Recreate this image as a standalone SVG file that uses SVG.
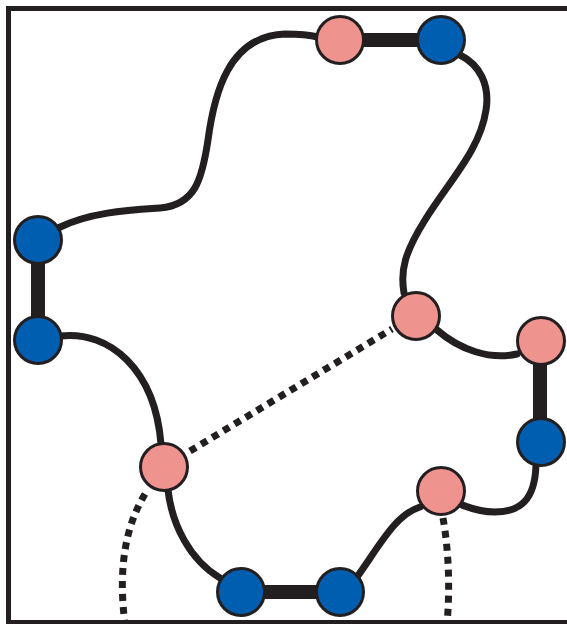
<svg xmlns="http://www.w3.org/2000/svg" width="567" height="624" viewBox="0 0 567 624">
<style>
.frame{stroke:#231F20;stroke-width:5;fill:none}
.curve{stroke:#231F20;stroke-width:7;fill:none;stroke-linecap:round}
.bar{stroke:#231F20;stroke-width:14;fill:none}
.dot{stroke:#231F20;stroke-width:7;fill:none;stroke-dasharray:7 6}
.pink{fill:#EF938F;stroke:#231F20;stroke-width:3}
.blue{fill:#005EB0;stroke:#231F20;stroke-width:3}
</style>
<rect width="567" height="624" fill="#fff"/>
<g id="frame">
<line class="frame" x1="8.5" y1="6" x2="8.5" y2="624"/>
<line class="frame" x1="6" y1="8.5" x2="567" y2="8.5"/>
<line class="frame" x1="6" y1="622.5" x2="567" y2="622.5"/>
</g>
<g id="connectors">
<path class="curve" d="M58,228 C90,212 130,210 160,208 C195,205 202,180 208,140 C214,95 228,36 285,34 C300,34 310,35 318,37"/>
<path class="curve" d="M460,55 C480,65 490,85 486,110 C480,150 450,180 425,220 C405,252 400,270 404,293"/>
<path class="curve" d="M437,330 C460,350 490,360 517,354"/>
<path class="curve" d="M536,465 C535,500 520,512 495,512 C480,512 470,508 462,505"/>
<path class="curve" d="M60,336 C110,330 155,370 161,444"/>
<path class="curve" d="M168,490 C172,525 190,560 220,578"/>
<path class="curve" d="M357,577 C380,545 395,515 420,507"/>
<line class="bar" x1="340" y1="40" x2="441" y2="40"/>
<line class="bar" x1="38" y1="240" x2="38" y2="340"/>
<line class="bar" x1="540" y1="341" x2="540" y2="442"/>
<line class="bar" x1="241" y1="592" x2="340" y2="592"/>
<line class="dot" x1="190" y1="451" x2="392" y2="329"/>
<path class="dot" d="M145,494 C125,527 118,570 125,624"/>
<path class="dot" d="M443,518 C449,552 450,590 447,624"/>
</g>
<g id="P1"><circle class="pink" cx="340" cy="40" r="23.5"/></g>
<g id="B1"><circle class="blue" cx="441" cy="40" r="23.5"/></g>
<g id="B2"><circle class="blue" cx="38" cy="240" r="23.5"/></g>
<g id="B3"><circle class="blue" cx="38" cy="340" r="23.5"/></g>
<g id="P2"><circle class="pink" cx="416" cy="316" r="23.5"/></g>
<g id="P3"><circle class="pink" cx="541" cy="341" r="23.5"/></g>
<g id="B4"><circle class="blue" cx="541" cy="442" r="23.5"/></g>
<g id="P4"><circle class="pink" cx="441" cy="491" r="23.5"/></g>
<g id="P5"><circle class="pink" cx="164" cy="467" r="23.5"/></g>
<g id="B5"><circle class="blue" cx="241" cy="592" r="23.5"/></g>
<g id="B6"><circle class="blue" cx="340" cy="592" r="23.5"/></g>
</svg>
